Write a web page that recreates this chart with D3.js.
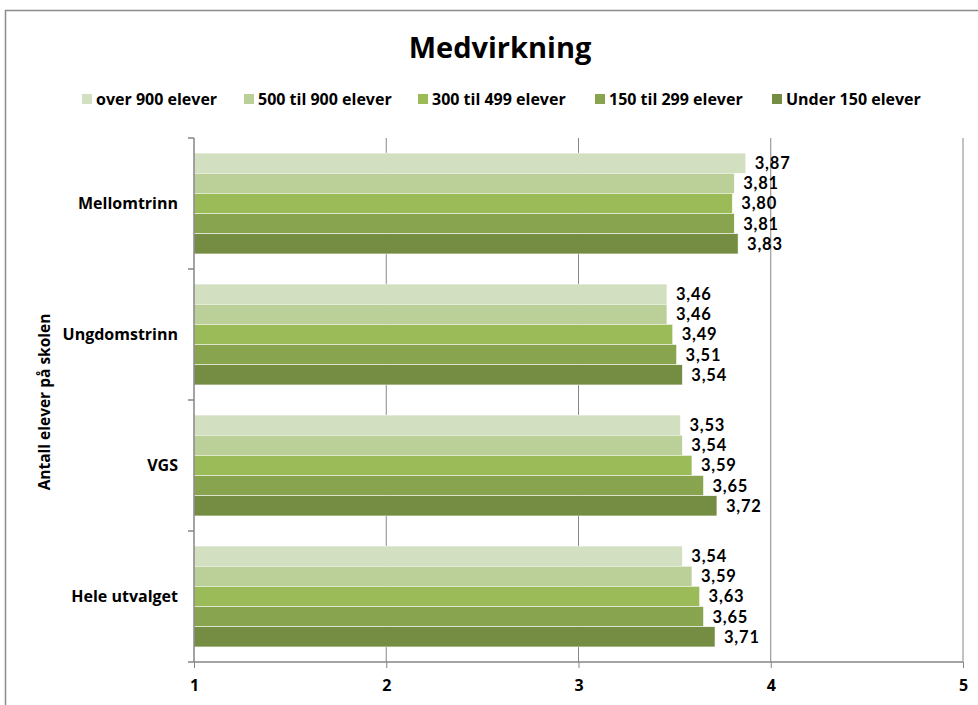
<!DOCTYPE html>
<html><head><meta charset="utf-8">
<script src="https://cdn.jsdelivr.net/npm/d3@7"></script>
<style>body{margin:0;background:#fff;} svg{display:block;} text{font-family:"Open Sans",sans-serif;font-weight:bold;}</style>
</head><body><svg id="c" width="978" height="705"></svg>
<script>
const categories = ["Mellomtrinn","Ungdomstrinn","VGS","Hele utvalget"];
const seriesNames = ["over 900 elever","500 til 900 elever","300 til 499 elever","150 til 299 elever","Under 150 elever"];
const over900  = [3.87,3.46,3.53,3.54];
const s500_900 = [3.81,3.46,3.54,3.59];
const s300_499 = [3.80,3.49,3.59,3.63];
const s150_299 = [3.81,3.51,3.65,3.65];
const under150 = [3.83,3.54,3.72,3.71];
const xTicks = [1,2,3,4,5];
const colors = ["#D2DFC0","#BBCF99","#9BBB59","#88A44E","#758D42"];
const seriesValues = [over900,s500_900,s300_499,s150_299,under150];

const svg = d3.select("#c");
// outer border
svg.append("path").attr("d","M5.5,705 V10.5 H978").attr("fill","none").attr("stroke","#8c8c8c").attr("stroke-width",1.5);

const m = {left:194, right:963, top:138, bottom:662};
const x = d3.scaleLinear().domain([1,5]).range([m.left,m.right]);
const y = d3.scaleBand().domain(categories).range([m.top,m.bottom]).paddingInner(0.23).paddingOuter(0.115);
const yi = d3.scaleBand().domain(seriesNames).range([0,y.bandwidth()]);

// gridlines
svg.append("g").selectAll("line").data(xTicks.slice(1)).join("line")
  .attr("x1",d=>x(d)).attr("x2",d=>x(d)).attr("y1",m.top).attr("y2",m.bottom)
  .attr("stroke","#868686").attr("stroke-width",1);

// bars
const data = [];
categories.forEach((c,ci)=>seriesNames.forEach((s,si)=>data.push({c,s,si,v:seriesValues[si][ci]})));
svg.append("g").selectAll("rect").data(data).join("rect")
  .attr("x",x(1)).attr("y",d=>y(d.c)+yi(d.s)).attr("width",d=>x(d.v)-x(1)).attr("height",yi.bandwidth())
  .attr("fill",d=>colors[d.si]).attr("stroke","#fff").attr("stroke-width",0.5);

// value labels
svg.append("g").selectAll("text").data(data).join("text")
  .attr("x",d=>x(d.v)+9).attr("y",d=>y(d.c)+yi(d.s)+yi.bandwidth()/2).attr("dy","0.36em")
  .style("font-family","Lato,sans-serif").style("letter-spacing","0.8px")
  .attr("font-size",16.5).attr("fill","#000").text(d=>d.v.toFixed(2).replace(".",","));

// x axis
const xa = svg.append("g").attr("transform",`translate(0,${m.bottom})`)
  .call(d3.axisBottom(x).tickValues(xTicks).tickSize(6).tickPadding(12).tickFormat(d=>d));
xa.select(".domain").attr("stroke","#868686").attr("stroke-width",1.5).attr("d",`M${m.left},0H${m.right}`);
xa.selectAll(".tick line").attr("stroke","#868686");
xa.selectAll(".tick text").attr("font-size",16).attr("fill","#000");

// y axis
const ya = svg.append("g").attr("transform",`translate(${m.left},0)`)
  .call(d3.axisLeft(y).tickSize(0).tickPadding(16));
ya.select(".domain").attr("stroke","#868686").attr("stroke-width",1.5).attr("d",`M0,${m.top}V${m.bottom}`);
ya.selectAll(".tick text").attr("font-size",16).attr("fill","#000");
// category divider ticks
const bounds = categories.map(c=>y(c)-y.step()*y.paddingInner()/2).concat([m.bottom]);
svg.append("g").selectAll("line").data(bounds).join("line")
  .attr("x1",m.left-6).attr("x2",m.left).attr("y1",d=>d).attr("y2",d=>d)
  .attr("stroke","#868686").attr("stroke-width",1.5);

// y title
svg.append("text").attr("transform","translate(50,402) rotate(-90)").attr("text-anchor","middle")
  .attr("font-size",15.5).attr("fill","#000").text("Antall elever på skolen");

// title
svg.append("text").attr("x",500).attr("y",58).attr("text-anchor","middle").attr("font-size",29).attr("fill","#000").text("Medvirkning");

// legend
const legX = [82,244,418,595,772];
const lg = svg.append("g").selectAll("g").data(seriesNames).join("g").attr("transform",(d,i)=>`translate(${legX[i]},99)`);
lg.append("rect").attr("x",0).attr("y",-5).attr("width",10).attr("height",10).attr("fill",(d,i)=>colors[i]);
lg.append("text").attr("x",14).attr("dy","0.36em").attr("font-size",16).attr("fill","#000").text(d=>d);
</script></body></html>
